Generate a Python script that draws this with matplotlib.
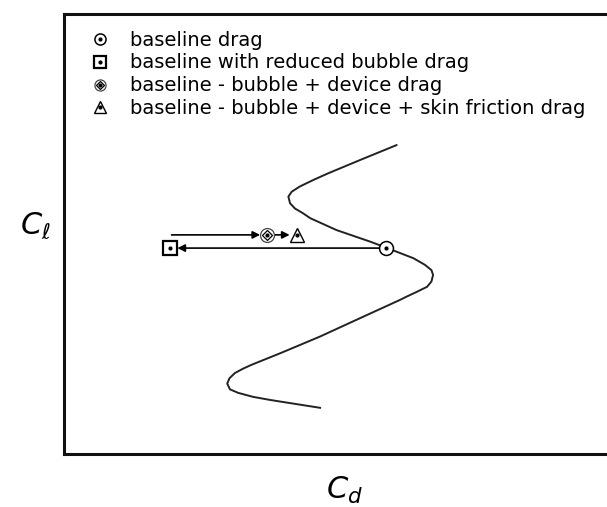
import matplotlib.pyplot as plt
from matplotlib.lines import Line2D
from matplotlib.legend_handler import HandlerTuple

# drag polar (Cd, Cl), arbitrary normalised units
cd_curve = [0.469, 0.423, 0.377, 0.346, 0.319, 0.304, 0.299, 0.303, 0.313, 0.328,
            0.344, 0.396, 0.469, 0.548, 0.615, 0.628, 0.647, 0.665, 0.673, 0.676,
            0.673, 0.661, 0.640, 0.615, 0.588, 0.560, 0.499, 0.451, 0.438, 0.423,
            0.414, 0.411, 0.417, 0.432, 0.457, 0.484, 0.542, 0.609]
cl_curve = [0.105, 0.114, 0.123, 0.130, 0.139, 0.147, 0.160, 0.172, 0.184, 0.194,
            0.203, 0.229, 0.267, 0.312, 0.350, 0.358, 0.369, 0.380, 0.392, 0.407,
            0.418, 0.430, 0.445, 0.457, 0.470, 0.483, 0.509, 0.536, 0.547, 0.558,
            0.570, 0.585, 0.596, 0.608, 0.623, 0.638, 0.668, 0.702]

cl_design = 0.468
cd_baseline = 0.590
cd_reduced = 0.195
cl_device = 0.498
cd_start = 0.197
cd_device = 0.372
cd_skin = 0.426

labels = ["baseline drag",
          "baseline with reduced bubble drag",
          "baseline - bubble + device drag",
          "baseline - bubble + device + skin friction drag"]

plt.rcParams['font.family'] = ['DejaVu Sans']

fig = plt.figure(figsize=(6.07, 5.07), dpi=100)
ax = fig.add_axes([0.1054, 0.1045, 0.8995, 0.8679])
ax.set_xlim(0, 1)
ax.set_ylim(0, 1)
ax.set_xticks([])
ax.set_yticks([])
for s in ax.spines.values():
    s.set_linewidth(2.2)
    s.set_color('#111111')

ax.plot(cd_curve, cl_curve, color='#222222', lw=1.4, zorder=2,
        solid_joinstyle='round')

arrow = dict(arrowstyle='-|>', color='black', lw=1.2, mutation_scale=11,
             shrinkA=0, shrinkB=5)
ax.annotate('', xy=(cd_reduced, cl_design), xytext=(cd_baseline, cl_design),
            arrowprops=arrow)
ax.annotate('', xy=(cd_device, cl_device), xytext=(cd_start, cl_device),
            arrowprops=arrow)
ax.annotate('', xy=(cd_skin, cl_device), xytext=(cd_device, cl_device),
            arrowprops=arrow)


def symbol(kind, size):
    dot = Line2D([], [], ls='none', marker='o', ms=2, color='black')
    if kind == 'circle':
        outer = [Line2D([], [], ls='none', marker='o', ms=size, mfc='white',
                        mec='black', mew=1.1)]
    elif kind == 'square':
        outer = [Line2D([], [], ls='none', marker='s', ms=size, mfc='white',
                        mec='black', mew=1.6)]
    elif kind == 'diamond':
        outer = [Line2D([], [], ls='none', marker='o', ms=size, mfc='white',
                        mec='#444444', mew=0.9),
                 Line2D([], [], ls='none', marker='D', ms=size * 0.55, mfc='none',
                        mec='black', mew=0.9)]
    else:
        outer = [Line2D([], [], ls='none', marker='^', ms=size, mfc='white',
                        mec='black', mew=1.0)]
    return tuple(outer + [dot])


def draw_symbol(kind, x, y, size=10):
    for h in symbol(kind, size):
        ax.plot([x], [y], ls='none', marker=h.get_marker(), ms=h.get_markersize(),
                mfc=h.get_markerfacecolor(), mec=h.get_markeredgecolor(),
                mew=h.get_markeredgewidth(), zorder=4)


draw_symbol('circle', cd_baseline, cl_design)
draw_symbol('square', cd_reduced, cl_design)
draw_symbol('diamond', cd_device, cl_device)
draw_symbol('triangle', cd_skin, cl_device)

handles = [symbol(k, 8) for k in ['circle', 'square', 'diamond', 'triangle']]
ax.legend(handles, labels, handler_map={tuple: HandlerTuple(ndivide=1, pad=0)},
          loc='upper left', bbox_to_anchor=(0.034, 0.98), frameon=False,
          fontsize=14, handlelength=1.0, handletextpad=1.05, labelspacing=0.2,
          borderaxespad=0)

fig.text(0.058, 0.555, r'$C_\ell$', fontsize=22, ha='center', va='center')
fig.text(0.567, 0.033, r'$C_d$', fontsize=22, ha='center', va='center')

fig.savefig('out.png', dpi=100)
